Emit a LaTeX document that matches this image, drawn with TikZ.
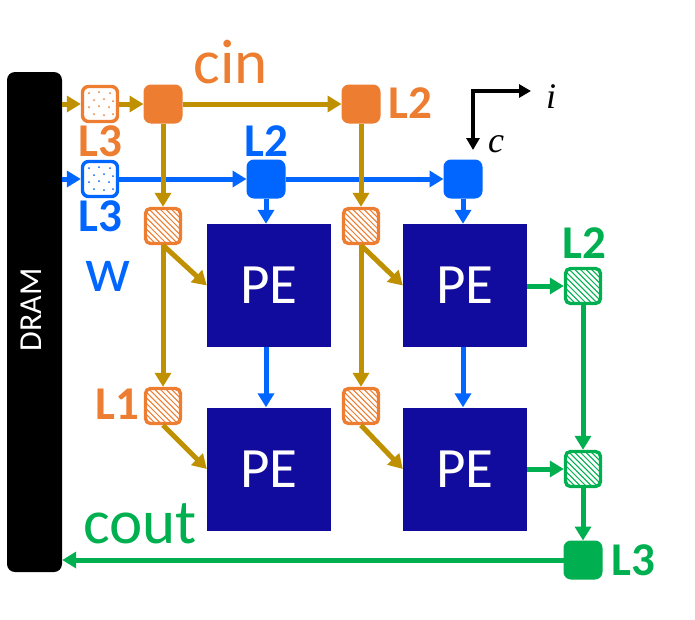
\documentclass[tikz,border=0pt]{standalone}
\usepackage{fontspec}
\setmainfont{Carlito}
\newfontfamily\axisfont{Liberation Serif}
\usetikzlibrary{arrows.meta}
\definecolor{ora}{HTML}{ED7D31}
\definecolor{gld}{HTML}{BF9000}
\definecolor{blu}{HTML}{0066FF}
\definecolor{grn}{HTML}{00B050}
\definecolor{pecol}{HTML}{110C9E}
\tikzset{
  conn/.style={line width=5pt, -{Triangle[length=14pt,width=16pt]}},
  axis/.style={line width=3.4pt, -{Triangle[length=12pt,width=13pt]}},
  solidbuf/.style={draw=#1, fill=#1, line width=3pt, rounded corners=6pt,
    minimum size=36pt, inner sep=0pt},
  hatchbuf/.style={draw=#1, fill=#1, line width=3.4pt, rounded corners=5pt,
    minimum size=35pt, inner sep=0pt,
    path picture={\begin{scope}[shift={(path picture bounding box.center)}]
      \foreach \k in {-8,...,8}{\draw[white,line width=2.6pt] (\k*5.6-26,-26) -- (\k*5.6+26,26);}
      \end{scope}}},
  dotbuf/.style={draw=#1, fill=white, line width=3.4pt, rounded corners=6pt,
    minimum size=35pt, inner sep=0pt,
    path picture={\begin{scope}[shift={(path picture bounding box.center)}]
      \foreach \p in {(-11,-11),(-1,-12),(10,-11),(-6,-4),(4,-5),(13,-3),
                      (-11,3),(-1,2),(9,3),(-6,10),(4,11),(13,10)}
        {\fill[#1] \p circle (1pt);}
      \end{scope}}},
  pebox/.style={fill=pecol, minimum width=124pt, minimum height=123pt, inner sep=0pt,
    text=white, font=\fontsize{57}{57}\selectfont},
  lbl/.style={inner sep=0pt, font=\bfseries\fontsize{47}{47}\selectfont},
  big/.style={inner sep=0pt, anchor=base, font=\fontsize{63}{63}\selectfont},
  axlbl/.style={inner sep=0pt, font=\axisfont\itshape\fontsize{36}{36}\selectfont},
}
\begin{document}
\begin{tikzpicture}[x=1pt,y=-1pt]
\useasboundingbox (0,0) rectangle (695,619);

% off-chip memory
\node[fill=black, rounded corners=8pt, minimum width=55pt, minimum height=500pt, inner sep=0pt] (dram) at (34.5,322) {};
\node[text=white, rotate=90, inner sep=0pt, font=\fontsize{32}{32}\selectfont] (dramtxt) at (31,310) {DRAM};

% processing elements
\node[pebox] (pe1) at (269,285.5) {PE};
\node[pebox] (pe2) at (465,285.5) {PE};
\node[pebox] (pe3) at (269,469) {PE};
\node[pebox] (pe4) at (465,469) {PE};

% input activation buffers
\node[dotbuf=ora] (oL3) at (100,104) {};
\node[solidbuf=ora] (oA) at (163,104) {};
\node[solidbuf=ora] (oB) at (361,104) {};
\node[hatchbuf=ora] (h1) at (163,226) {};
\node[hatchbuf=ora] (h2) at (361,226) {};
\node[hatchbuf=ora] (h3) at (163,406) {};
\node[hatchbuf=ora] (h4) at (361,406) {};

% weight buffers
\node[dotbuf=blu] (bL3) at (100,179) {};
\node[solidbuf=blu] (bA) at (266,179) {};
\node[solidbuf=blu] (bB) at (463,179) {};

% output buffers
\node[hatchbuf=grn] (g1) at (583,286) {};
\node[hatchbuf=grn] (g2) at (583,469) {};
\node[solidbuf=grn] (g3) at (583,560) {};

% weight flow
\draw[conn, blu] (dram.east |- bL3) -- (bL3.west);
\draw[conn, blu] (bL3.east) -- (bA.west);
\draw[conn, blu] (bA.east) -- (bB.west);
\draw[conn, blu] (bA.south) -- (bA.south |- pe1.north);
\draw[conn, blu] (bB.south) -- (bB.south |- pe2.north);
\draw[conn, blu] (pe1.south -| bA) -- (pe3.north -| bA);
\draw[conn, blu] (pe2.south -| bB) -- (pe4.north -| bB);

% input activation flow
\draw[conn, gld] (dram.east |- oL3) -- (oL3.west);
\draw[conn, gld] (oL3.east) -- (oA.west);
\draw[conn, gld] (oA.east) -- (oB.west);
\draw[conn, gld] (oA.south) -- (h1.north);
\draw[conn, gld] (oB.south) -- (h2.north);
\draw[conn, gld] (h1.south) -- (h3.north);
\draw[conn, gld] (h2.south) -- (h4.north);
\draw[conn, gld] (h1.south) -- (pe1.west);
\draw[conn, gld] (h2.south) -- (pe2.west);
\draw[conn, gld] (h3.south) -- (pe3.west);
\draw[conn, gld] (h4.south) -- (pe4.west);

% output flow
\draw[conn, grn] (pe2.east |- g1) -- (g1.west);
\draw[conn, grn] (pe4.east |- g2) -- (g2.west);
\draw[conn, grn] (g1.south) -- (g2.north);
\draw[conn, grn] (g2.south) -- (g3.north);
\draw[conn, grn] (g3.west) -- (dram.east |- g3);

% labels
\node[big, text=ora] (cin) at (231,83) {cin};
\node[big, text=blu] (wlbl) at (108,291) {w};
\node[big, text=grn] (cout) at (140,543) {cout};
\node[lbl, text=ora] (lo3) at (100,141) {L3};
\node[lbl, text=ora] (lo2) at (410,103) {L2};
\node[lbl, text=ora] (lo1) at (117,404) {L1};
\node[lbl, text=blu] (lb3) at (100,216) {L3};
\node[lbl, text=blu] (lb2) at (266,141) {L2};
\node[lbl, text=grn] (lg2) at (584,243) {L2};
\node[lbl, text=grn] (lg3) at (633,560) {L3};

% loop axes
\coordinate (ax) at (473,91);
\coordinate (axi) at (531,91);
\coordinate (axc) at (473,150);
\draw[axis] ([xshift=-1.7pt]ax) -- (axi);
\draw[axis] (ax) -- (axc);
\node[axlbl, anchor=base] (li) at (551,108) {i};
\node[axlbl, anchor=base] (lc) at (496,152) {c};
\end{tikzpicture}
\end{document}
